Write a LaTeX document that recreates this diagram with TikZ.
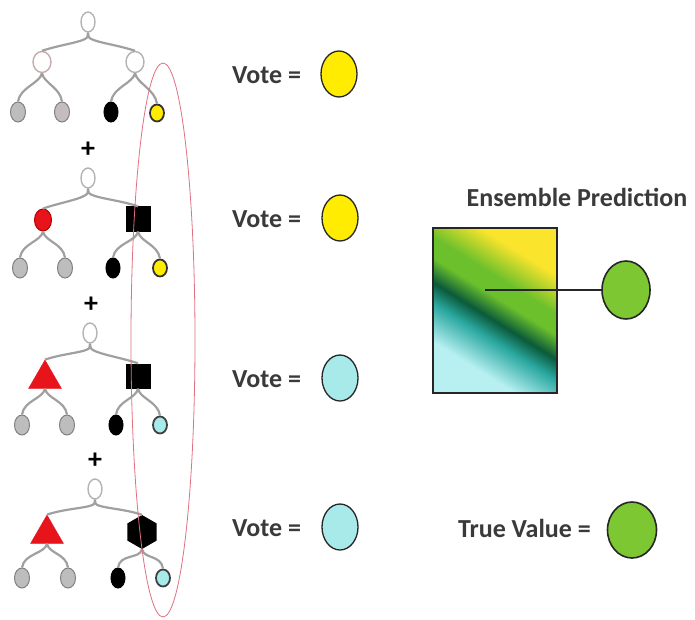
\documentclass[tikz,border=0pt]{standalone}
\usepackage{fontspec}
\setmainfont{Carlito}
\usetikzlibrary{shapes.geometric}
\definecolor{votey}{HTML}{FFEC00}
\definecolor{votec}{HTML}{A8EAEA}
\definecolor{truegreen}{HTML}{7DC832}
\definecolor{txt}{HTML}{3A3A3A}
\definecolor{ringred}{HTML}{E07080}
\definecolor{brgray}{HTML}{A0A0A0}
\definecolor{leafgray}{HTML}{BDBDBD}
\definecolor{redn}{HTML}{E8141C}
\definecolor{shcyan}{HTML}{B8F0F2}
\definecolor{shteal}{HTML}{2AA8A0}
\definecolor{shdark}{HTML}{0A5A3A}
\definecolor{shgreen}{HTML}{6CC02C}
\definecolor{shyellow}{HTML}{FBE42C}
\pgfdeclarehorizontalshading{ens}{100bp}{color(0bp)=(shcyan); color(30bp)=(shcyan); color(41bp)=(shteal); color(47bp)=(shdark); color(54bp)=(shgreen); color(60bp)=(shgreen); color(71bp)=(shyellow); color(100bp)=(shyellow)}
\tikzset{
  branch/.style={draw=brgray, line width=2.2pt},
  innern/.style={ellipse, draw=brgray!80, line width=1.4pt, fill=white, minimum width=14pt, minimum height=20pt, inner sep=0pt},
  leafg/.style={ellipse, draw=gray, fill=leafgray, line width=1pt, minimum width=15pt, minimum height=20pt, inner sep=0pt},
  leafb/.style={ellipse, draw=black, fill=black, line width=1pt, minimum width=14pt, minimum height=20pt, inner sep=0pt},
  leafy/.style={ellipse, draw=black!80, fill=votey, line width=1.8pt, minimum width=14pt, minimum height=17pt, inner sep=0pt},
  leafc/.style={ellipse, draw=black!75, fill=votec, line width=1.8pt, minimum width=14pt, minimum height=17pt, inner sep=0pt},
  redc/.style={ellipse, draw=red!70!black, fill=redn, line width=1pt, minimum width=17pt, minimum height=22pt, inner sep=0pt},
  redtri/.style={regular polygon, regular polygon sides=3, fill=redn, draw=redn, minimum size=38pt, inner sep=0pt},
  blksq/.style={rectangle, fill=black, minimum width=25pt, minimum height=25pt, inner sep=0pt},
  blkhex/.style={regular polygon, regular polygon sides=6, shape border rotate=30, fill=black, minimum size=34pt, inner sep=0pt},
  plus/.style={font=\fontsize{28}{28}\bfseries, inner sep=0pt},
  lbl/.style={font=\fontsize{26}{30}\selectfont\bfseries, text=txt, inner sep=0pt},
  vote/.style={ellipse, draw=black!85, line width=1.3pt, minimum width=36pt, minimum height=46pt, inner sep=0pt},
}
\newcommand{\lbranch}[2]{\draw[branch] (#1.south) .. controls +(5,9) and +(24,-8) .. (#2.north);}
\newcommand{\rbranch}[2]{\draw[branch] (#1.south) .. controls +(-5,9) and +(-24,-8) .. (#2.north);}
\newcommand{\lleaf}[2]{\draw[branch] (#1.south) .. controls +(-2,10) and +(2,-14) .. (#2.north);}
\newcommand{\rleaf}[2]{\draw[branch] (#1.south) .. controls +(2,10) and +(-2,-14) .. (#2.north);}
\begin{document}
\begin{tikzpicture}[x=1pt,y=-1pt]
\useasboundingbox[fill=white] (0,0) rectangle (695,620);

% ---- tree 1
\node[innern] (t1r) at (88,22) {};
\node[innern, minimum width=18pt, minimum height=21pt, draw=brgray!60!pink] (t1a) at (42,62) {};
\node[innern, minimum width=18pt, minimum height=21pt] (t1b) at (135,62) {};
\node[leafg] (t1l1) at (18,112) {};
\node[leafg, fill=leafgray!90!pink] (t1l2) at (62,112) {};
\node[leafb] (t1l3) at (111,112) {};
\node[leafy] (t1l4) at (157,113) {};
\lbranch{t1r}{t1a} \rbranch{t1r}{t1b}
\lleaf{t1a}{t1l1} \rleaf{t1a}{t1l2}
\lleaf{t1b}{t1l3} \rleaf{t1b}{t1l4}
\node[plus] (p1) at (88,150) {+};

% ---- tree 2
\node[innern] (t2r) at (88,178) {};
\node[redc] (t2a) at (43,220) {};
\node[blksq] (t2b) at (138,219) {};
\node[leafg] (t2l1) at (20,268) {};
\node[leafg] (t2l2) at (65,268) {};
\node[leafb] (t2l3) at (113,268) {};
\node[leafy] (t2l4) at (160,268) {};
\lbranch{t2r}{t2a} \rbranch{t2r}{t2b}
\lleaf{t2a}{t2l1} \rleaf{t2a}{t2l2}
\lleaf{t2b}{t2l3} \rleaf{t2b}{t2l4}
\node[plus] (p2) at (91,305) {+};

% ---- tree 3
\node[innern] (t3r) at (90,333) {};
\node[redtri] (t3a) at (45,379) {};
\node[blksq] (t3b) at (138,376) {};
\node[leafg] (t3l1) at (22,425) {};
\node[leafg] (t3l2) at (67,425) {};
\node[leafb] (t3l3) at (116,425) {};
\node[leafc] (t3l4) at (160,425) {};
\lbranch{t3r}{t3a} \rbranch{t3r}{t3b}
\lleaf{t3a}{t3l1} \rleaf{t3a}{t3l2}
\lleaf{t3b}{t3l3} \rleaf{t3b}{t3l4}
\node[plus] (p3) at (95,461) {+};

% ---- tree 4
\node[innern] (t4r) at (95,489) {};
\node[redtri] (t4a) at (47,534) {};
\node[blkhex] (t4b) at (142,532) {};
\node[leafg] (t4l1) at (22,578) {};
\node[leafg] (t4l2) at (68,578) {};
\node[leafb] (t4l3) at (118,578) {};
\node[leafc] (t4l4) at (163,578) {};
\lbranch{t4r}{t4a} \rbranch{t4r}{t4b}
\lleaf{t4a}{t4l1} \rleaf{t4a}{t4l2}
\lleaf{t4b}{t4l3} \rleaf{t4b}{t4l4}

% ---- red ring
\draw[ringred, line width=0.8pt] (163,340) ellipse [x radius=32, y radius=277];

% ---- votes
\node[lbl, anchor=west] (v1t) at (232,75) {Vote =};
\node[vote, fill=votey] (v1) at (339,74) {};
\node[lbl, anchor=west] (v2t) at (232,219) {Vote =};
\node[vote, fill=votey] (v2) at (340,218) {};
\node[lbl, anchor=west] (v3t) at (232,379) {Vote =};
\node[vote, fill=votec] (v3) at (340,378) {};
\node[lbl, anchor=west] (v4t) at (232,528) {Vote =};
\node[vote, fill=votec] (v4) at (340,527) {};

% ---- ensemble
\node[lbl] (et) at (577,197) {Ensemble Prediction};
\shade[shading=ens, shading angle=58] (433,228) rectangle (557,393);
\draw[black!85, line width=1.5pt] (433,228) rectangle (557,393);
\coordinate (ep) at (485,290);
\node[vote, fill=truegreen, minimum width=48pt, minimum height=58pt, line width=1.6pt] (ec) at (626,290) {};
\draw[black!85, line width=1.6pt] (ep) -- (ec);

% ---- true value
\node[lbl, anchor=east] (tvt) at (591,528) {True Value =};
\node[vote, fill=truegreen, minimum width=49pt, minimum height=56pt, line width=1.6pt] (tv) at (632,530) {};
\end{tikzpicture}
\end{document}
